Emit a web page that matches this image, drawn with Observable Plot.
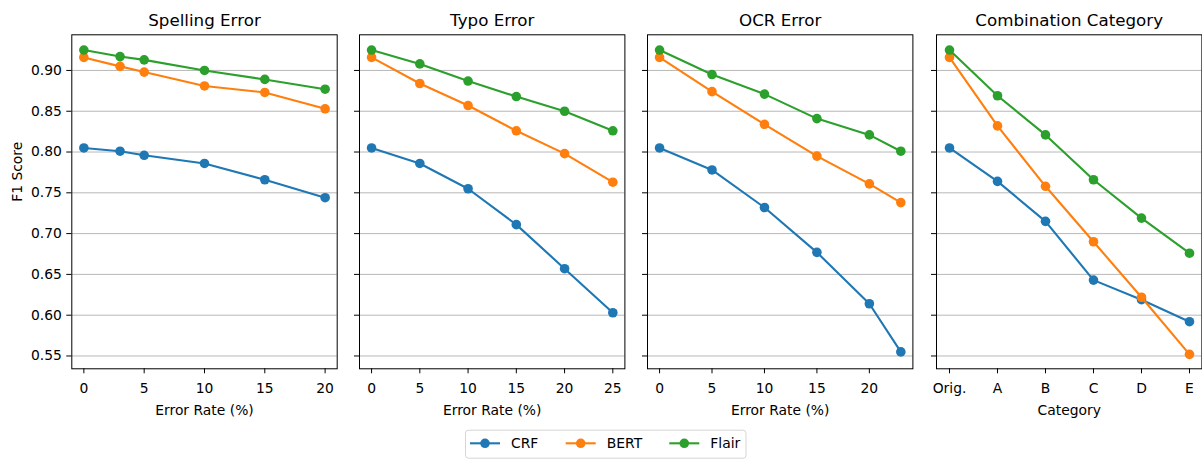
<!DOCTYPE html>
<html><head><meta charset="utf-8">
<script src="https://cdn.jsdelivr.net/npm/d3@7"></script>
<script src="https://cdn.jsdelivr.net/npm/@observablehq/plot@0.6"></script>
<style>
body{margin:0;background:#fff;}
#wrap{position:relative;width:1202px;height:459px;overflow:hidden;font-family:"DejaVu Sans",sans-serif;background:#fff;}
#wrap > svg{position:absolute;top:0;}
</style></head><body><div id="wrap"></div>
<script>
const models = ["CRF", "BERT", "Flair"];
const colors = ["#1f77b4", "#ff7f0e", "#2ca02c"];

const spellingRates = [0, 3, 5, 10, 15, 20];
const spellingCRF   = [0.805, 0.801, 0.796, 0.786, 0.766, 0.744];
const spellingBERT  = [0.916, 0.905, 0.898, 0.881, 0.873, 0.853];
const spellingFlair = [0.925, 0.917, 0.913, 0.900, 0.889, 0.877];

const typoRates = [0, 5, 10, 15, 20, 25];
const typoCRF   = [0.805, 0.786, 0.755, 0.711, 0.657, 0.603];
const typoBERT  = [0.916, 0.884, 0.857, 0.826, 0.798, 0.763];
const typoFlair = [0.925, 0.908, 0.887, 0.868, 0.850, 0.826];

const ocrRates = [0, 5, 10, 15, 20, 23];
const ocrCRF   = [0.805, 0.778, 0.732, 0.677, 0.614, 0.555];
const ocrBERT  = [0.916, 0.874, 0.834, 0.795, 0.761, 0.738];
const ocrFlair = [0.925, 0.895, 0.871, 0.841, 0.821, 0.801];

const categories = ["Orig.", "A", "B", "C", "D", "E"];
const comboCRF   = [0.805, 0.764, 0.715, 0.643, 0.619, 0.592];
const comboBERT  = [0.916, 0.832, 0.758, 0.690, 0.622, 0.552];
const comboFlair = [0.925, 0.869, 0.821, 0.766, 0.719, 0.676];

const yTicks = [0.55, 0.60, 0.65, 0.70, 0.75, 0.80, 0.85, 0.90];
const titles = ["Spelling Error", "Typo Error", "OCR Error", "Combination Category"];
const xLabels = ["Error Rate (%)", "Error Rate (%)", "Error Rate (%)", "Category"];
const yLabel = "F1 Score";

const panels = [
  {x: spellingRates, series: [spellingCRF, spellingBERT, spellingFlair], xTicks: [0, 5, 10, 15, 20], xScale: {domain: [-1, 21]}},
  {x: typoRates, series: [typoCRF, typoBERT, typoFlair], xTicks: [0, 5, 10, 15, 20, 25], xScale: {domain: [-1.25, 26.25]}},
  {x: ocrRates, series: [ocrCRF, ocrBERT, ocrFlair], xTicks: [0, 5, 10, 15, 20], xScale: {domain: [-1.15, 24.15]}},
  {x: categories, series: [comboCRF, comboBERT, comboFlair], xTicks: categories, xScale: {type: "point", domain: categories, padding: 0.25}}
];

const frameLefts = [71.3, 359.3, 647.3, 935.5];
const frameW = 265.4;
const H = 430, frameTop = 34.3, frameBottom = 368.3;
const wrap = document.getElementById("wrap");

panels.forEach((p, i) => {
  const ML = i === 0 ? 71.3 : 12;
  const MR = i === 3 ? 1 : 10;
  const marks = [
    Plot.gridY(yTicks, {stroke: "#b0b0b0", strokeOpacity: 1, strokeWidth: 0.9})
  ];
  p.series.forEach((vals, s) => {
    const rows = p.x.map((xv, k) => ({x: xv, y: vals[k], model: models[s]}));
    marks.push(Plot.line(rows, {x: "x", y: "y", stroke: colors[s], strokeWidth: 2.1}));
    marks.push(Plot.dot(rows, {x: "x", y: "y", fill: colors[s], r: 4.8, stroke: "none"}));
  });
  marks.push(Plot.frame({stroke: "#000", strokeWidth: 1}));
  marks.push(Plot.axisX({ticks: p.xTicks, tickSize: 5, tickPadding: 9, label: null}));
  marks.push(Plot.axisY({ticks: yTicks, tickSize: 5, tickPadding: 5, label: null,
    tickFormat: i === 0 ? d3.format(".2f") : () => ""}));
  marks.push(Plot.text([titles[i]], {text: d => d, frameAnchor: "top", dy: -8.8, lineAnchor: "bottom", fontSize: 16.7}));
  marks.push(Plot.text([xLabels[i]], {text: d => d, frameAnchor: "bottom", dy: 46, lineAnchor: "bottom", fontSize: 13.9}));
  if (i === 0) {
    marks.push(Plot.text([yLabel], {text: d => d, frameAnchor: "left", dx: -54, rotate: -90, lineAnchor: "middle", fontSize: 13.9}));
  }
  const chart = Plot.plot({
    width: ML + frameW + MR,
    height: H,
    marginLeft: ML, marginRight: MR, marginTop: frameTop, marginBottom: H - frameBottom,
    style: {fontSize: "13.9px", fontFamily: "DejaVu Sans, sans-serif", color: "#000", background: "transparent", overflow: "visible"},
    x: {...p.xScale, label: null},
    y: {domain: [0.5343, 0.9437], label: null},
    marks
  });
  chart.style.position = "absolute";
  chart.style.top = "0px";
  chart.style.left = (frameLefts[i] - ML) + "px";
  wrap.appendChild(chart);
});

// legend
const ns = "http://www.w3.org/2000/svg";
const leg = document.createElementNS(ns, "svg");
leg.setAttribute("width", 284);
leg.setAttribute("height", 30);
leg.style.position = "absolute";
leg.style.left = "464px";
leg.style.top = "428.5px";
leg.style.fontFamily = "DejaVu Sans, sans-serif";
const box = document.createElementNS(ns, "rect");
box.setAttribute("x", 1.5); box.setAttribute("y", 1.2);
box.setAttribute("width", 280.5); box.setAttribute("height", 28);
box.setAttribute("rx", 3); box.setAttribute("fill", "#fff");
box.setAttribute("stroke", "#d5d5d5"); box.setAttribute("stroke-width", 1);
leg.appendChild(box);
const itemStarts = [6, 101.7, 205.3];
models.forEach((m, s) => {
  const x0 = itemStarts[s], cy = 14.3;
  const ln = document.createElementNS(ns, "line");
  ln.setAttribute("x1", x0); ln.setAttribute("x2", x0 + 30);
  ln.setAttribute("y1", cy); ln.setAttribute("y2", cy);
  ln.setAttribute("stroke", colors[s]); ln.setAttribute("stroke-width", 2.1);
  leg.appendChild(ln);
  const c = document.createElementNS(ns, "circle");
  c.setAttribute("cx", x0 + 15); c.setAttribute("cy", cy); c.setAttribute("r", 4.8);
  c.setAttribute("fill", colors[s]);
  leg.appendChild(c);
  const t = document.createElementNS(ns, "text");
  t.setAttribute("x", x0 + 41); t.setAttribute("y", cy + 5);
  t.setAttribute("font-size", "13.9px");
  t.textContent = m;
  leg.appendChild(t);
});
wrap.appendChild(leg);
</script></body></html>
